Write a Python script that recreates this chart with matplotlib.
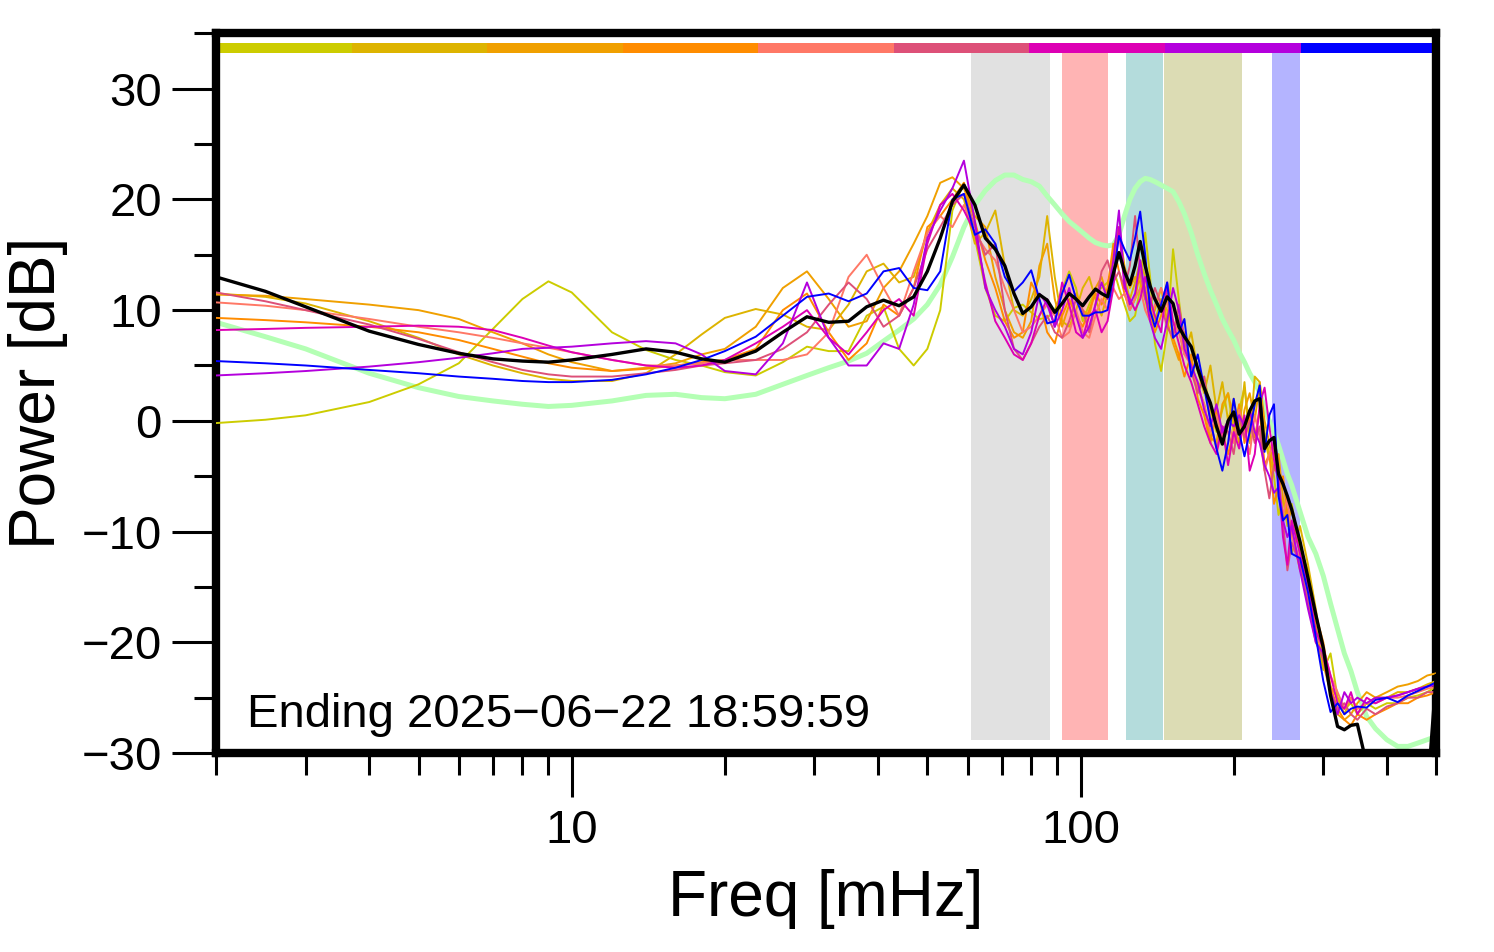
import numpy as np
import matplotlib
matplotlib.use('Agg')
import matplotlib.pyplot as plt
from matplotlib.ticker import FixedLocator, NullFormatter

plt.rcParams['font.family'] = ['Liberation Sans', 'DejaVu Sans']

# frequency grid [mHz]
freq = [2, 2.5, 3, 4, 5, 6, 7, 8, 9, 10, 12, 14, 16, 18, 20, 23, 26, 29, 32, 35,
        38, 41, 44, 47, 50, 53, 56, 59, 62, 65, 68, 71, 74, 77, 80, 83, 86, 89, 92, 95,
        98, 101, 104, 107, 110, 113, 116, 119, 122, 125, 128, 131, 134, 137, 140, 144, 148, 152, 156, 160,
        165, 170, 175, 180, 185, 190, 195, 200, 205, 210, 215, 220, 225, 230, 235, 240, 245, 250, 255, 260,
        270, 280, 290, 300, 310, 320, 330, 340, 350, 365, 380, 400, 420, 440, 460, 480, 500]

hour_colors = ['#cccc00', '#ddb400', '#f0a000', '#ff8c00', '#ff7866',
               '#dd5078', '#dd00b4', '#b400dd', '#0000ff']

p0 = [-0.2, 0.1, 0.5, 1.7, 3.3, 5.2, 8.3, 11.0, 12.6, 11.6, 8.0, 6.4, 5.5, 5.0, 4.4, 4.1, 5.3, 6.7, 6.3, 6.3,
      9.5, 10.3, 6.5, 5.0, 6.5, 10.0, 19.0, 21.5, 16.5, 12.0, 9.5, 9.0, 10.2, 10.5, 9.8, 9.2, 9.3, 10.0, 11.8, 13.5,
      12.0, 9.0, 10.5, 11.8, 12.0, 12.5, 13.8, 12.0, 10.5, 9.0, 9.5, 12.0, 17.0, 13.0, 7.0, 4.5, 8.0, 15.5, 11.0, 7.0,
      5.5, 3.0, 4.0, 1.0, -1.0, 1.0, 2.5, -1.0, 1.0, 3.0, -1.0, 1.5, 2.5, -1.0, -3.0, -5.0, -8.5, -7.0, -9.5, -7.5,
      -11.5, -13.5, -19.5, -22.5, -21.0, -25.0, -26.0, -25.5, -26.5, -25.5, -26.0, -25.5, -25.5, -25.0, -24.8, -24.5, -24.0]
p1 = [11.5, 11.2, 10.6, 9.0, 7.5, 6.0, 5.0, 4.3, 3.8, 3.6, 3.6, 4.3, 6.0, 7.8, 9.3, 10.1, 9.6, 8.5, 8.2, 10.5,
      13.5, 14.2, 12.5, 13.0, 17.0, 19.5, 21.0, 20.0, 16.0, 17.0, 19.0, 14.0, 10.0, 9.5, 11.0, 13.0, 18.5, 13.0, 9.0, 8.5,
      10.0, 12.0, 13.0, 11.0, 9.5, 11.5, 14.0, 17.5, 13.0, 11.0, 12.5, 14.5, 13.0, 10.5, 9.0, 11.0, 10.0, 8.0, 9.5, 6.0,
      8.0, 4.5, 2.5, 5.0, 1.0, 3.5, 0.0, 2.0, -1.0, 3.5, -2.0, 4.0, 3.5, -1.5, -3.5, -2.5, -6.0, -9.0, -8.0, -12.0,
      -9.5, -13.0, -17.0, -21.5, -24.0, -25.0, -26.5, -25.0, -26.0, -25.5, -25.0, -25.0, -24.5, -24.5, -24.2, -23.8, -23.5]
p2 = [11.4, 11.3, 11.0, 10.5, 10.0, 9.2, 8.0, 7.0, 6.0, 5.3, 4.5, 4.8, 5.2, 6.0, 6.5, 8.5, 12.0, 13.5, 11.0, 8.5,
      9.0, 12.0, 13.5, 16.0, 18.5, 21.5, 22.0, 21.0, 18.5, 17.5, 13.0, 10.0, 8.0, 7.5, 9.0, 14.0, 16.0, 11.0, 8.5, 10.5,
      11.5, 10.0, 9.5, 12.0, 13.0, 11.0, 15.5, 17.5, 14.0, 12.0, 13.0, 12.5, 11.0, 9.0, 10.0, 12.0, 9.0, 7.0, 5.5, 8.0,
      5.0, 3.0, 1.5, -1.5, -2.0, 1.5, 2.5, 0.0, -2.0, 1.0, 2.5, 0.0, 3.5, 0.0, -2.0, -4.5, -3.0, -7.0, -9.0, -8.0,
      -12.0, -14.5, -18.5, -22.0, -24.5, -26.5, -27.0, -26.5, -25.5, -24.5, -25.0, -24.5, -24.0, -23.8, -23.5, -23.0, -22.8]
p3 = [9.3, 9.1, 8.9, 8.5, 8.0, 7.3, 6.5, 5.8, 5.2, 4.8, 4.5, 4.7, 5.0, 5.3, 5.5, 6.5, 10.0, 11.5, 8.0, 5.5,
      7.0, 10.5, 9.5, 12.0, 17.5, 18.5, 20.0, 21.5, 18.0, 14.5, 12.0, 9.0, 7.5, 8.0, 12.5, 11.0, 8.0, 7.0, 9.5, 11.0,
      9.5, 8.5, 10.0, 11.5, 10.5, 12.0, 16.0, 13.5, 11.5, 10.0, 11.0, 13.5, 12.0, 9.5, 8.0, 9.5, 11.5, 7.5, 6.0, 4.0,
      6.0, 2.0, 0.5, -2.0, 1.0, -1.0, -3.0, -1.0, 1.5, -2.0, 0.5, -1.5, 1.0, -4.0, -3.0, -7.5, -6.0, -5.0, -8.5, -10.0,
      -13.5, -15.0, -17.5, -20.0, -24.0, -26.0, -27.0, -27.5, -26.5, -27.0, -26.5, -26.0, -25.5, -25.5, -25.0, -24.8, -24.5]
p4 = [10.7, 10.4, 10.0, 9.2, 8.5, 8.0, 7.5, 7.0, 6.6, 6.2, 5.5, 5.0, 5.0, 5.2, 5.5, 5.5, 5.5, 6.0, 8.0, 13.0,
      15.0, 12.0, 9.5, 13.5, 17.0, 18.5, 17.5, 19.5, 17.0, 15.5, 14.5, 12.0, 10.0, 8.0, 8.5, 9.5, 10.5, 9.5, 7.5, 8.0,
      10.0, 8.0, 7.5, 9.5, 11.0, 10.0, 12.0, 11.0, 11.5, 10.0, 11.0, 12.0, 10.0, 9.0, 10.5, 12.0, 10.5, 9.0, 8.0, 6.0,
      5.0, 3.0, 1.5, -1.0, 0.5, -1.5, 0.0, -2.0, 1.0, -1.0, -3.0, 0.5, -1.5, -4.5, -3.0, -2.0, -5.5, -8.5, -7.0, -10.5,
      -12.5, -16.0, -19.5, -20.5, -23.0, -24.5, -26.0, -25.0, -26.0, -25.5, -25.5, -25.0, -25.0, -24.8, -24.5, -24.2, -24.0]
p5 = [11.6, 10.8, 10.0, 8.7, 7.4, 6.2, 5.3, 4.6, 4.2, 4.0, 4.0, 4.3, 4.6, 5.0, 5.2, 5.5, 6.5, 8.0, 10.5, 12.5,
      11.0, 8.5, 9.5, 12.0, 15.5, 17.5, 19.5, 20.5, 17.5, 15.0, 16.0, 10.0, 6.5, 5.5, 7.0, 8.5, 9.5, 8.0, 7.5, 9.0,
      11.0, 10.0, 8.0, 10.5, 13.5, 14.5, 12.5, 13.5, 12.0, 14.0, 18.5, 13.5, 11.0, 10.5, 12.0, 10.5, 8.5, 7.5, 10.5, 7.5,
      4.5, 2.5, 4.0, 0.0, -2.5, -0.5, -1.0, -3.0, 0.5, -1.5, 0.0, -2.0, -0.5, -4.5, -7.0, -4.0, -5.0, -9.0, -13.5, -11.0,
      -13.0, -16.5, -20.0, -21.5, -24.5, -26.0, -25.5, -26.5, -27.0, -26.0, -26.5, -25.8, -25.5, -25.0, -25.0, -24.5, -24.5]
p6 = [8.2, 8.3, 8.4, 8.5, 8.6, 8.5, 8.2, 7.5, 6.8, 6.2, 5.5, 5.0, 4.8, 5.0, 5.5, 7.0, 8.5, 10.0, 7.5, 6.0,
      8.0, 10.0, 11.0, 9.5, 16.0, 19.5, 20.5, 19.0, 17.0, 12.5, 9.0, 7.5, 6.0, 5.5, 7.0, 9.5, 11.0, 8.5, 12.5, 10.5,
      8.0, 7.5, 9.5, 10.0, 8.0, 9.0, 12.0, 17.5, 12.0, 11.0, 10.0, 11.0, 13.0, 11.0, 9.5, 8.0, 12.5, 9.0, 7.0, 5.0,
      3.5, 1.5, -0.5, -2.0, -3.0, -0.5, -4.0, -1.0, -2.5, 0.5, -4.5, -3.0, 1.5, 3.0, -0.5, -3.5, -5.5, -10.5, -13.0, -9.0,
      -12.0, -15.0, -19.0, -20.5, -23.0, -25.5, -26.0, -24.5, -26.5, -25.0, -25.5, -25.0, -24.8, -24.5, -24.2, -24.0, -23.8]
p7 = [4.1, 4.3, 4.5, 4.9, 5.3, 5.7, 6.1, 6.5, 6.6, 6.7, 7.0, 7.2, 7.0, 6.0, 4.5, 4.2, 7.0, 12.5, 7.5, 5.0,
      5.0, 7.0, 6.5, 10.5, 16.5, 19.0, 21.0, 23.5, 18.0, 12.0, 10.0, 8.5, 6.5, 6.0, 8.0, 11.5, 10.5, 8.5, 10.0, 12.0,
      9.5, 7.5, 8.5, 10.5, 12.5, 11.0, 14.5, 19.0, 12.5, 10.5, 11.5, 14.5, 11.5, 9.0, 7.5, 6.5, 9.0, 12.0, 10.0, 6.5,
      5.0, 3.5, 1.0, -0.5, 1.5, -1.0, 0.0, -0.5, 0.5, -0.5, 1.0, -1.0, -2.0, -4.0, -5.0, -6.5, -6.0, -9.0, -10.5, -9.5,
      -13.5, -17.0, -20.0, -21.0, -24.5, -26.5, -24.5, -25.5, -25.0, -25.5, -25.0, -25.0, -24.8, -24.5, -24.2, -24.0, -23.8]
p8 = [5.4, 5.2, 5.0, 4.6, 4.3, 4.0, 3.8, 3.6, 3.5, 3.5, 3.7, 4.2, 4.8, 5.5, 6.3, 7.6, 9.5, 11.2, 11.5, 10.8,
      11.5, 13.5, 13.8, 12.0, 11.8, 13.5, 20.0, 20.5, 16.8, 17.3, 16.0, 13.0, 11.7, 12.5, 13.6, 11.0, 8.8, 9.0, 11.5, 13.2,
      11.0, 9.5, 9.5, 9.8, 9.8, 10.0, 13.0, 16.7, 15.5, 14.5, 16.5, 18.9, 15.0, 10.0, 8.5, 10.5, 12.5, 7.5, 8.0, 9.2,
      4.0, 6.0, 3.0, 0.0, -2.5, -4.5, -2.0, 2.0, -1.0, -3.2, -1.0, 1.5, 3.2, -2.8, 0.5, 1.5, -6.8, -9.0, -8.5, -12.0,
      -12.4, -15.5, -19.5, -23.5, -26.3, -25.5, -26.5, -26.0, -25.8, -25.9, -25.2, -25.0, -25.4, -24.8, -24.4, -24.0, -23.6]
hour_series = [p0, p1, p2, p3, p4, p5, p6, p7, p8]

mean_pow = [13.0, 11.7, 10.3, 8.1, 6.9, 6.1, 5.6, 5.4, 5.3, 5.5, 6.0, 6.5, 6.2, 5.6, 5.3, 6.3, 8.0, 9.4, 8.9, 9.0,
            10.3, 10.9, 10.4, 11.2, 13.5, 16.5, 19.8, 21.3, 19.5, 16.5, 15.5, 14.0, 11.5, 9.7, 10.3, 11.4, 10.9, 9.8, 10.6, 11.5,
            11.0, 10.4, 11.2, 11.9, 11.5, 11.2, 13.3, 15.2, 13.5, 12.3, 14.0, 16.2, 14.0, 12.2, 11.0, 9.9, 11.2, 10.6, 8.5, 7.6,
            6.7, 4.7, 3.0, 1.6, -0.5, -2.1, 0.0, 0.8, -1.2, -0.5, 0.9, 1.8, 2.0, -2.5, -1.8, -1.5, -4.8, -5.7, -6.8, -8.0,
            -10.9, -14.2, -17.5, -20.5, -24.8, -27.6, -27.9, -27.5, -27.4, -31.0, -34.0, -34.0, -34.0, -34.0, -34.0, -34.0, -23.0]

ref_pow = [8.9, 7.6, 6.5, 4.3, 3.0, 2.2, 1.8, 1.5, 1.3, 1.4, 1.8, 2.3, 2.4, 2.1, 2.0, 2.4, 3.3, 4.1, 4.8, 5.4,
           6.1, 7.2, 8.2, 9.2, 10.5, 12.3, 14.8, 17.5, 19.5, 20.8, 21.7, 22.2, 22.2, 21.8, 21.6, 21.2, 20.3, 19.5, 18.7, 18.0,
           17.5, 17.0, 16.5, 16.1, 15.9, 15.8, 15.9, 16.8, 18.5, 20.0, 21.0, 21.6, 21.9, 21.8, 21.6, 21.3, 21.0, 20.7, 19.8, 18.7,
           17.0, 15.0, 13.3, 11.8, 10.5, 9.2, 8.2, 7.3, 6.2, 5.3, 4.3, 3.5, 2.5, 1.2, 0.0, -1.0, -2.2, -3.5, -4.8, -5.8,
           -8.2, -10.5, -12.0, -14.0, -16.5, -18.8, -21.0, -22.6, -24.5, -26.7, -27.8, -28.8, -29.4, -29.4, -29.1, -28.8, -28.5]

# shaded frequency bands [mHz]
band_lo = [61, 92, 123, 146, 238]
band_hi = [87, 113, 145, 208, 270]
band_colors = ['#e1e1e1', '#ffb4b4', '#b4dcdc', '#dcdcb4', '#b4b4ff']

fig = plt.figure(figsize=(14.94, 9.52), dpi=100)
ax = fig.add_axes([0.1446, 0.209, 0.8167, 0.756])

for lo, hi, c in zip(band_lo, band_hi, band_colors):
    ax.axvspan(lo, hi, ymin=0.0185, ymax=0.972, color=c, lw=0, zorder=0)

for i, c in enumerate(hour_colors):
    ax.axhspan(33.25, 34.15, xmin=i / 9, xmax=(i + 1) / 9, color=c, lw=0, zorder=1)

ax.plot(freq, ref_pow, color='#b4ffb4', lw=3.6, zorder=2)
for vals, c in zip(hour_series, hour_colors):
    ax.plot(freq, vals, color=c, lw=1.4, zorder=3)
ax.plot(freq, mean_pow, color='black', lw=2.4, zorder=4)

ax.set_xscale('log')
ax.set_xlim(2, 500)
ax.set_ylim(-30, 35)

ax.xaxis.set_major_locator(FixedLocator([10, 100]))
ax.xaxis.set_minor_locator(FixedLocator([2, 3, 4, 5, 6, 7, 8, 9, 20, 30, 40, 50, 60, 70, 80, 90,
                                         200, 300, 400, 500]))
ax.xaxis.set_minor_formatter(NullFormatter())
ax.set_xticklabels(['10', '100'])
ax.yaxis.set_major_locator(FixedLocator([-30, -20, -10, 0, 10, 20, 30]))
ax.yaxis.set_minor_locator(FixedLocator([-25, -15, -5, 5, 15, 25, 35]))

ax.tick_params(which='major', direction='out', length=32, width=2.2, labelsize=34, pad=7)
ax.tick_params(which='minor', direction='out', length=16, width=2.2)
ax.tick_params(axis='x', which='major', pad=8)

for s in ax.spines.values():
    s.set_linewidth(6)

ax.set_xlabel('Freq [mHz]', fontsize=46, labelpad=12)
ax.set_ylabel('Power [dB]', fontsize=46, labelpad=10)

ax.text(0.025, 0.036, 'Ending 2025\u221206\u221222 18:59:59', transform=ax.transAxes,
        fontsize=34, va='baseline', ha='left', zorder=5)

fig.savefig('out.png', dpi=100)
